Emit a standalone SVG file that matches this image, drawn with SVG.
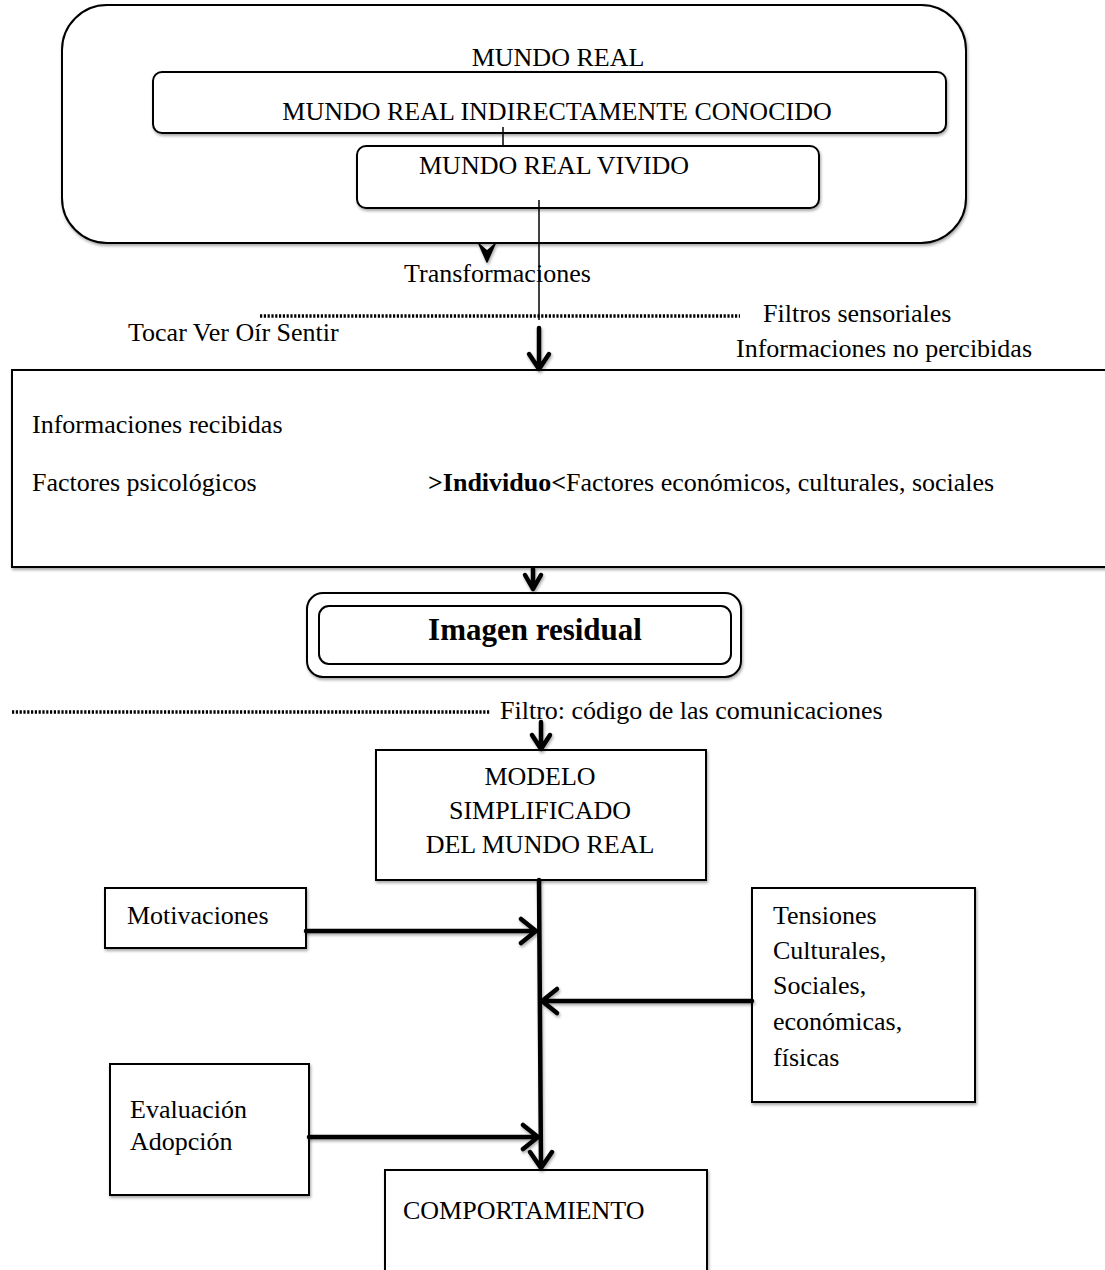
<svg xmlns="http://www.w3.org/2000/svg" width="1105" height="1270" viewBox="0 0 1105 1270">
<defs>
<filter id="sh" x="-10%" y="-10%" width="120%" height="130%">
<feDropShadow dx="1" dy="2" stdDeviation="1.5" flood-color="#000" flood-opacity="0.35"/>
</filter>
</defs>
<style>
text{font-family:"Liberation Serif","Times New Roman",serif;font-size:26px;fill:#000}
.c{text-anchor:middle}
.b{font-weight:bold}
.box{fill:#fff;stroke:#000;stroke-width:2}
.thin{stroke:#000;stroke-width:1.5;fill:none}
.thick{stroke:#000;stroke-width:4.5;fill:none;stroke-linecap:round;stroke-linejoin:round}
.dot{stroke:#000;stroke-width:3.5;stroke-dasharray:2.2 1.6;fill:none}
</style>
<rect width="1105" height="1270" fill="#fff"/>

<g id="mundo-real">
<rect class="box" x="62" y="5" width="904" height="238" rx="45" filter="url(#sh)"/>
<text class="c" x="558" y="66">MUNDO REAL</text>
</g>
<g id="indirecto">
<rect class="box" x="153" y="72" width="793" height="61" rx="9" filter="url(#sh)"/>
<text class="c" x="557" y="120">MUNDO REAL INDIRECTAMENTE CONOCIDO</text>
</g>
<g id="vivido">
<rect class="box" x="357" y="146" width="462" height="62" rx="9" filter="url(#sh)"/>
<text x="419" y="174">MUNDO REAL VIVIDO</text>
</g>

<g id="labels-top">
<text x="404" y="282">Transformaciones</text>
<text x="763" y="322">Filtros sensoriales</text>
<text x="128" y="341">Tocar Ver Oír Sentir</text>
<text x="736" y="357">Informaciones no percibidas</text>
</g>

<g id="individuo">
<rect class="box" x="12" y="370" width="1110" height="197" filter="url(#sh)"/>
<text x="32" y="433">Informaciones recibidas</text>
<text x="32" y="491">Factores psicológicos</text>
<text x="428" y="491"><tspan class="b">&gt;Individuo&lt;</tspan>Factores económicos, culturales, sociales</text>
</g>

<g id="imagen-residual">
<rect class="box" x="307" y="593" width="434" height="84" rx="16" filter="url(#sh)"/>
<rect class="box" x="319" y="606" width="412" height="58" rx="10"/>
<text class="c b" x="535" y="640" style="font-size:31px">Imagen residual</text>
</g>

<g id="filtro-codigo">
<text x="500" y="719">Filtro: código de las comunicaciones</text>
</g>

<g id="modelo">
<rect class="box" x="376" y="750" width="330" height="130" filter="url(#sh)"/>
<text class="c" x="540" y="785">MODELO</text>
<text class="c" x="540" y="819">SIMPLIFICADO</text>
<text class="c" x="540" y="853">DEL MUNDO REAL</text>
</g>

<g id="motivaciones">
<rect class="box" x="105" y="888" width="201" height="60" filter="url(#sh)"/>
<text x="127" y="924">Motivaciones</text>
</g>

<g id="tensiones">
<rect class="box" x="752" y="888" width="223" height="214" filter="url(#sh)"/>
<text x="773" y="924">Tensiones</text>
<text x="773" y="959">Culturales,</text>
<text x="773" y="994">Sociales,</text>
<text x="773" y="1030">económicas,</text>
<text x="773" y="1066">físicas</text>
</g>

<g id="evaluacion">
<rect class="box" x="110" y="1064" width="199" height="131" filter="url(#sh)"/>
<text x="130" y="1118">Evaluación</text>
<text x="130" y="1150">Adopción</text>
</g>

<g id="comportamiento">
<rect class="box" x="385" y="1170" width="322" height="110" filter="url(#sh)"/>
<text x="403" y="1219">COMPORTAMIENTO</text>
</g>

<g id="connectors">
<line class="thin" x1="503" y1="127" x2="503" y2="146"/>
<line class="thin" x1="539" y1="200" x2="539" y2="320"/>
<g filter="url(#sh)">
<path d="M479,244 L487,262 L495,244 L487,251 Z" fill="#000" stroke="#000" stroke-width="1.5" stroke-linejoin="round"/>
<path class="thick" d="M539,328 L539,368 M529,354 L539,369 L549,354"/>
<path class="thick" d="M533,569 L533,588 M525,575 L533,589 L541,575"/>
<path class="thick" d="M541,722 L541,748 M532,735 L541,749 L550,735"/>
<path class="thick" d="M539,880 L541,1167 M530,1152 L541,1168 L552,1152"/>
<path class="thick" d="M306,931 L535,931 M521,919 L536,931 L521,943"/>
<path class="thick" d="M752,1001 L543,1001 M557,989 L542,1001 L557,1013"/>
<path class="thick" d="M309,1137 L537,1137 M523,1125 L538,1137 L523,1149"/>
</g>
<line class="dot" x1="260" y1="316" x2="740" y2="316"/>
<line class="dot" x1="12" y1="712" x2="490" y2="712"/>
</g>
</svg>
